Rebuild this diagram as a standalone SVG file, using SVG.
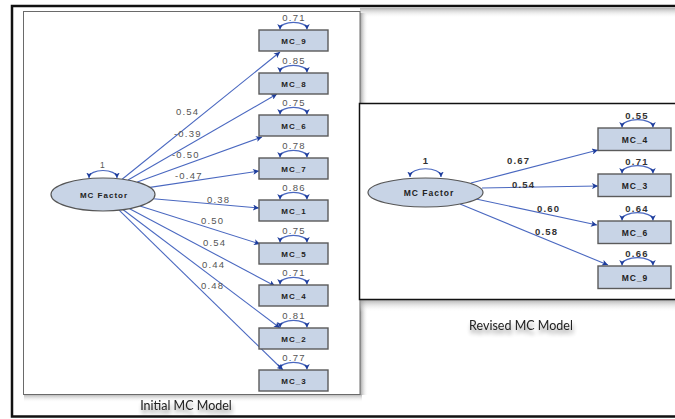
<svg xmlns="http://www.w3.org/2000/svg" width="675" height="419" viewBox="0 0 675 419">
  <defs>
    <marker id="arr" viewBox="0 0 10 10" refX="10" refY="5" markerWidth="7" markerHeight="6" markerUnits="userSpaceOnUse" orient="auto-start-reverse">
      <path d="M0,0 L10,5 L0,10 L2.5,5 Z" fill="#1e3d9c"/>
    </marker>
    <marker id="arrS" viewBox="0 0 10 10" refX="10" refY="5" markerWidth="5.5" markerHeight="5.5" markerUnits="userSpaceOnUse" orient="auto-start-reverse">
      <path d="M0,0 L10,5 L0,10 L2.5,5 Z" fill="#1e3d9c"/>
    </marker>
    <linearGradient id="shadeDown" x1="0" y1="0" x2="0" y2="1">
      <stop offset="0" stop-color="#9a9a9a" stop-opacity="0.75"/>
      <stop offset="1" stop-color="#ffffff" stop-opacity="0"/>
    </linearGradient>
    <linearGradient id="shadeRight" x1="0" y1="0" x2="1" y2="0">
      <stop offset="0" stop-color="#8a8a8a" stop-opacity="0.85"/>
      <stop offset="1" stop-color="#ffffff" stop-opacity="0"/>
    </linearGradient>
    <filter id="txtShadow" x="-20%" y="-50%" width="140%" height="220%">
      <feGaussianBlur in="SourceAlpha" stdDeviation="2.2"/>
      <feOffset dx="1" dy="4" result="b"/>
      <feComponentTransfer><feFuncA type="linear" slope="0.45"/></feComponentTransfer>
      <feMerge><feMergeNode/><feMergeNode in="SourceGraphic"/></feMerge>
    </filter>
    <style>
      .box { fill: #c8d4e6; stroke: #5b5b5b; stroke-width: 1.4; }
      .lat { fill: #c8d4e6; stroke: #555; stroke-width: 1.2; }
      .path { fill: none; stroke: #4a68c0; stroke-width: 1.1; marker-end: url(#arr); }
      .var { fill: none; stroke: #4a68c0; stroke-width: 1.2; marker-start: url(#arrS); marker-end: url(#arrS); }
      .nm { font-family: "Liberation Sans", Arial, sans-serif; font-weight: bold; font-size: 8px; letter-spacing: 1px; fill: #222; text-anchor: middle; }
      .nm2 { font-family: "Liberation Sans", Arial, sans-serif; font-weight: bold; font-size: 8.5px; letter-spacing: 1px; fill: #222; text-anchor: middle; }
      .lbl { font-family: "Liberation Sans", Arial, sans-serif; font-size: 9.5px; letter-spacing: 1.2px; fill: #555; }
      .lbl2 { font-family: "Liberation Sans", Arial, sans-serif; font-weight: bold; font-size: 9.5px; letter-spacing: 1.2px; fill: #333; }
      .cap { font-family: Lato, "Open Sans", sans-serif; font-size: 12.5px; fill: #222; text-anchor: middle; }
    </style>
  </defs>

  <!-- page -->
  <rect x="0" y="0" width="675" height="419" fill="#ffffff"/>
  <rect x="360" y="8" width="315" height="10" fill="url(#shadeDown)"/>

  <!-- left panel with shadow -->
  <rect x="360" y="13" width="8" height="382" fill="url(#shadeRight)"/>
  <rect x="24" y="394.5" width="338" height="8" fill="url(#shadeDown)"/>
  <rect x="23.5" y="11.5" width="336.5" height="383" fill="#ffffff" stroke="#6a6a6a" stroke-width="1"/>

  <!-- right panel with shadow -->
  <rect x="360" y="300" width="315" height="12" fill="url(#shadeDown)"/>
  <rect x="359.5" y="103.5" width="330" height="196" fill="#ffffff" stroke="#111" stroke-width="1.5"/>

  <!-- outer frame -->
  <rect x="12" y="6" width="700" height="410.5" fill="none" stroke="#111" stroke-width="2.5"/>

  <!-- captions -->
  <text class="cap" x="186" y="410" filter="url(#txtShadow)">Initial MC Model</text>
  <text class="cap" x="521" y="330" filter="url(#txtShadow)">Revised MC Model</text>

  <!-- connectors: initial model -->
  <g id="connectors-initial">
    <line class="path" x1="122.1" y1="179.2" x2="280" y2="52"/>
    <line class="path" x1="128" y1="180" x2="277" y2="94"/>
    <line class="path" x1="137.3" y1="182.1" x2="262" y2="137"/>
    <line class="path" x1="150" y1="187.4" x2="259" y2="171"/>
    <line class="path" x1="153.2" y1="198.8" x2="259" y2="208"/>
    <line class="path" x1="139.9" y1="206.1" x2="260" y2="244"/>
    <line class="path" x1="129.6" y1="208.7" x2="275" y2="286"/>
    <line class="path" x1="123.2" y1="209.7" x2="280" y2="328"/>
    <line class="path" x1="119.1" y1="210.2" x2="283" y2="370"/>
    <text class="lbl" x="176" y="115">0.54</text>
    <text class="lbl" x="174" y="137">-0.39</text>
    <text class="lbl" x="172" y="158">-0.50</text>
    <text class="lbl" x="175" y="179">-0.47</text>
    <text class="lbl" x="207" y="203">0.38</text>
    <text class="lbl" x="201" y="224">0.50</text>
    <text class="lbl" x="203" y="246">0.54</text>
    <text class="lbl" x="202" y="268">0.44</text>
    <text class="lbl" x="201" y="289">0.48</text>
  </g>

  <!-- connectors: revised model -->
  <g id="connectors-revised">
    <line class="path" x1="471" y1="183" x2="598" y2="150"/>
    <line class="path" x1="482" y1="188" x2="598" y2="186"/>
    <line class="path" x1="476" y1="199" x2="597" y2="225"/>
    <line class="path" x1="460" y1="204" x2="608" y2="265"/>
    <text class="lbl2" x="507" y="164">0.67</text>
    <text class="lbl2" x="512" y="188">0.54</text>
    <text class="lbl2" x="537" y="212">0.60</text>
    <text class="lbl2" x="535" y="235">0.58</text>
  </g>

  <!-- initial model nodes -->
  <g id="mc-factor-initial">
    <path class="var" d="M89,178 C89,168 117,168 117,178"/>
    <text class="lbl" x="100" y="168" style="font-size:8.5px">1</text>
    <ellipse class="lat" cx="103" cy="194.5" rx="52" ry="16.5"/>
    <text class="nm" x="104" y="197.5">MC Factor</text>
  </g>
  <g id="mc9-initial">
    <path class="var" d="M280,29.5 C280,20 307,20 307,29.5"/>
    <text class="lbl" x="294" y="20.5" text-anchor="middle">0.71</text>
    <rect class="box" x="259" y="30" width="69" height="21"/>
    <text class="nm" x="294" y="43.5">MC_9</text>
  </g>
  <g id="mc8-initial">
    <path class="var" d="M280,72.5 C280,63 307,63 307,72.5"/>
    <text class="lbl" x="294" y="63.5" text-anchor="middle">0.85</text>
    <rect class="box" x="259" y="73" width="69" height="21"/>
    <text class="nm" x="294" y="86.5">MC_8</text>
  </g>
  <g id="mc6-initial">
    <path class="var" d="M280,114.5 C280,105 307,105 307,114.5"/>
    <text class="lbl" x="294" y="105.5" text-anchor="middle">0.75</text>
    <rect class="box" x="259" y="115" width="69" height="21"/>
    <text class="nm" x="294" y="128.5">MC_6</text>
  </g>
  <g id="mc7-initial">
    <path class="var" d="M280,157.5 C280,148 307,148 307,157.5"/>
    <text class="lbl" x="294" y="148.5" text-anchor="middle">0.78</text>
    <rect class="box" x="259" y="158" width="69" height="21"/>
    <text class="nm" x="294" y="171.5">MC_7</text>
  </g>
  <g id="mc1-initial">
    <path class="var" d="M280,199.5 C280,190 307,190 307,199.5"/>
    <text class="lbl" x="294" y="190.5" text-anchor="middle">0.86</text>
    <rect class="box" x="259" y="200" width="69" height="21"/>
    <text class="nm" x="294" y="213.5">MC_1</text>
  </g>
  <g id="mc5-initial">
    <path class="var" d="M280,242.5 C280,233 307,233 307,242.5"/>
    <text class="lbl" x="294" y="233.5" text-anchor="middle">0.75</text>
    <rect class="box" x="259" y="243" width="69" height="21"/>
    <text class="nm" x="294" y="256.5">MC_5</text>
  </g>
  <g id="mc4-initial">
    <path class="var" d="M280,284.5 C280,275 307,275 307,284.5"/>
    <text class="lbl" x="294" y="275.5" text-anchor="middle">0.71</text>
    <rect class="box" x="259" y="285" width="69" height="21"/>
    <text class="nm" x="294" y="298.5">MC_4</text>
  </g>
  <g id="mc2-initial">
    <path class="var" d="M280,327.5 C280,318 307,318 307,327.5"/>
    <text class="lbl" x="294" y="318.5" text-anchor="middle">0.81</text>
    <rect class="box" x="259" y="328" width="69" height="21"/>
    <text class="nm" x="294" y="341.5">MC_2</text>
  </g>
  <g id="mc3-initial">
    <path class="var" d="M280,369.5 C280,360 307,360 307,369.5"/>
    <text class="lbl" x="294" y="360.5" text-anchor="middle">0.77</text>
    <rect class="box" x="259" y="370" width="69" height="21"/>
    <text class="nm" x="294" y="383.5">MC_3</text>
  </g>

  <!-- revised model nodes -->
  <g id="mc-factor-revised">
    <path class="var" d="M410,177 C410,166 441,166 441,177"/>
    <text class="lbl2" x="425.5" y="164" text-anchor="middle" style="letter-spacing:0">1</text>
    <ellipse class="lat" cx="425.5" cy="192.5" rx="57.5" ry="14.5"/>
    <text class="nm2" x="429" y="195.5">MC Factor</text>
  </g>
  <g id="mc4-revised">
    <path class="var" d="M622,127.5 C622,117 653,117 653,127.5"/>
    <text class="lbl2" x="637" y="118.5" text-anchor="middle">0.55</text>
    <rect class="box" x="598" y="128" width="73" height="22.5"/>
    <text class="nm2" x="635" y="142.5">MC_4</text>
  </g>
  <g id="mc3-revised">
    <path class="var" d="M622,173.5 C622,163 653,163 653,173.5"/>
    <text class="lbl2" x="637" y="164.5" text-anchor="middle">0.71</text>
    <rect class="box" x="598" y="174" width="73" height="22.5"/>
    <text class="nm2" x="635" y="188.5">MC_3</text>
  </g>
  <g id="mc6-revised">
    <path class="var" d="M622,220.5 C622,210 653,210 653,220.5"/>
    <text class="lbl2" x="637" y="211.5" text-anchor="middle">0.64</text>
    <rect class="box" x="598" y="221" width="73" height="22.5"/>
    <text class="nm2" x="635" y="235.5">MC_6</text>
  </g>
  <g id="mc9-revised">
    <path class="var" d="M622,265.5 C622,255 653,255 653,265.5"/>
    <text class="lbl2" x="637" y="256.5" text-anchor="middle">0.66</text>
    <rect class="box" x="598" y="266" width="73" height="22.5"/>
    <text class="nm2" x="635" y="280.5">MC_9</text>
  </g>
</svg>
